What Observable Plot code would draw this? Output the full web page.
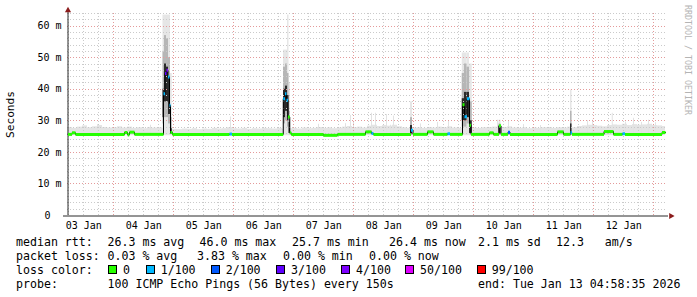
<!DOCTYPE html>
<html><head><meta charset="utf-8">
<script src="https://cdn.jsdelivr.net/npm/d3@7"></script>
<script src="https://cdn.jsdelivr.net/npm/@observablehq/plot@0.6"></script>
<style>
html,body{margin:0;padding:0;background:#fff;}
#wrap{position:relative;width:697px;height:297px;overflow:hidden;background:#fff;font-family:"DejaVu Sans Mono",monospace;color:#000;}
#chart{position:absolute;left:0;top:0;}
.lg{position:absolute;font-size:11.6px;line-height:14px;white-space:pre;}
.box{position:absolute;width:9px;height:9px;box-sizing:border-box;border:1px solid #000;}
#wm{position:absolute;left:683px;top:5px;writing-mode:vertical-rl;font-size:8.3px;color:#b4b4b4;white-space:pre;line-height:9px;}
</style></head>
<body><div id="wrap"><div id="chart"></div><div id="legend"></div><div id="wm">RRDTOOL / TOBI OETIKER</div></div>
<script>
// ---- time frame (hours from start of graph) ----
const startMs = Date.UTC(2026, 0, 3, 5, 30);
const spanHours = 240;
const dataEndHour = 239.2;
const T = h => new Date(startMs + h * 3600e3);

// ---- axes ----
const yTicks = [0, 10, 20, 30, 40, 50, 60];
const yTickLabels = ["0", "10 m", "20 m", "30 m", "40 m", "50 m", "60 m"];
const yMinor = [2,4,6,8,12,14,16,18,22,24,26,28,32,34,36,38,42,44,46,48,52,54,56,58,62,64];
const xTickDays = [3, 4, 5, 6, 7, 8, 9, 10, 11, 12];
const xTickLabels = ["03 Jan","04 Jan","05 Jan","06 Jan","07 Jan","08 Jan","09 Jan","10 Jan","11 Jan","12 Jan"];

// ---- loss colours ----
const lossColors = ["#26ff00", "#00b8ff", "#0059ff", "#5e00ff", "#7e00ff", "#dd00ff", "#ff0000"];
const lossLabels = ["0", "1/100", "2/100", "3/100", "4/100", "50/100", "99/100"];

// ---- median rtt (ms) segments ----
const medStart = [0.2,1.8,3.2,22.8,24,24.8,26.8,38.4,39,39.6,40.2,40.8,41.2,42,64.8,65.8,86.3,87,87.6,88.2,88.9,89.5,102.4,108,119.2,121.6,122.4,137.4,138.2,144,146.4,152,153,158,158.8,159.8,160.8,161.4,168.8,170.4,172.6,173.4,176.2,177,196,198.4,201.2,201.8,214.6,218.4,222,223,237.8];
const medEnd   = [1.8,3.2,22.8,24,24.8,26.8,38.4,39,39.6,40.2,40.8,41.2,42,64.8,65.8,86.3,87,87.6,88.2,88.9,89.5,102.4,108,119.2,121.6,122.4,137.4,138.2,144,146.4,152,153,158,158.8,159.8,160.8,161.4,168.8,170.4,172.6,173.4,176.2,177,196,198.4,201.2,201.8,214.6,218.4,222,223,237.8,239.2];
const medValue = [25.7,26.2,25.7,26.3,25.6,26.4,25.7,38.6,45.0,46.0,43.9,34.9,26.3,25.7,25.8,25.7,37.0,38.6,36.5,31.2,26.2,25.7,25.4,25.7,26.5,26.0,25.7,27.0,25.7,26.5,25.7,25.9,25.7,35.1,31.3,37.0,28.6,25.7,26.2,25.7,28.4,25.7,26.4,25.7,26.5,25.7,26.2,25.7,26.6,25.7,25.9,25.7,26.3];
const medLoss  = [0,0,0,0,0,0,0,1,3,4,1,1,0,0,1,0,1,1,1,0,0,0,0,0,0,1,0,1,0,0,0,1,0,0,1,1,0,0,0,0,0,0,2,0,0,0,1,0,0,0,1,0,0];

// ---- smoke: 2-hour bins, top of the light smoke (ms) ----
const smokeFloor = 25.3;
const smokeTop = [
  27.9,27.6,28.0,28.4,27.8,28.1,28.5,27.9,27.7,27.8,
  28.1,27.7,28.0,27.6,27.8,27.5,27.9,27.7,27.8,27.6,
  27.5,27.3,27.2,27.4,27.3,27.5,27.2,27.4,27.3,27.6,
  27.4,27.5,27.8,27.5,27.4,27.6,27.3,27.5,27.4,27.6,
  27.5,27.4,27.6,27.3,27.5,27.6,27.4,27.7,27.5,27.6,
  27.9,27.6,27.8,27.5,27.7,28.0,28.2,27.8,28.0,27.7,
  28.3,28.6,28.2,28.5,28.3,28.6,28.1,27.8,27.6,27.7,
  27.8,27.6,27.9,27.7,28.0,27.8,28.1,27.7,27.6,27.9,
  27.5,27.7,27.6,27.8,27.9,28.0,28.2,27.9,28.1,27.7,
  27.6,27.8,27.5,27.7,27.6,27.8,27.9,27.6,27.8,27.7,
  28.0,27.8,28.2,28.4,28.6,28.5,28.3,28.1,28.5,28.7,
  28.6,28.9,28.5,28.8,28.6,28.7,28.9,28.5,28.4,28.2
];
// thin tall smoke bars
const thinBarHour = [12,33.2,65.2,100.4,111.2,113.2,114.4,121.6,123.2,127.6,129.2,130.4,141.2,148,152.4,172,176.4,182.4,189.2,208,210,217.9,223.2,226.4,229.6,232.4,235.2];
const thinBarTop  = [28.8,28.6,31.2,28.9,29.1,31.7,29.5,32.4,32.4,32.0,28.6,31.5,29.0,29.5,30.0,30.2,30.0,28.8,28.5,30.0,30.2,32.4,29.6,30.8,29.5,30.2,29.4];
// dense smoke around the spikes
const spikeStart = [38.2,38.8,39.6,40.4,41.2,86.4,87.2,88.0,88.6,137.2,157.9,158.8,159.8,160.8,201.2,172.6];
const spikeEnd   = [38.8,39.6,40.4,41.2,41.9,87.2,88.0,88.6,89.2,138.0,158.8,159.8,160.8,161.9,201.8,173.4];
const outerHi = [63.5,63.5,63.5,63.5,45,52.4,52.4,63.5,42,36,51.5,51.5,51.5,48,39.7,30.2];
const midLo   = [29,31,31,29,26,29,30,28,26,26,28,28,29,26,26,26];
const midHi   = [52,57,56,50,31,47,48,45,33,31,45,48,47,36,33,29];
const coreLo  = [31,36,36,32,25.8,31,33,30,26,26,30,30,31,26,26,26];
const coreHi  = [40,48,47,44,27.5,40,41,38,29.5,28.5,37,39,39,30,29,28.4];

// ---- legend text ----
const statLines = [
  [["median rtt:",16],["26.3 ms avg",107.5],["46.0 ms max",199.5],["25.7 ms min",292],["26.4 ms now",389],["2.1 ms sd",478],["12.3   am/s",556]],
  [["packet loss:",16],["0.03 % avg",107.5],["3.83 % max",197],["0.00 % min",283],["0.00 % now",369]],
  [["loss color:",16]],
  [["probe:",16],["100 ICMP Echo Pings (56 Bytes) every 150s",107.5],["end: Tue Jan 13 04:58:35 2026",478]]
];
const lossBoxX = [108,145.7,210.7,276,341,405,476.7];

// ---- tables ----
const bins = smokeTop.map((v, i) => ({t0: T(i * 2), t1: T(Math.min(i * 2 + 2, dataEndHour)), top: v}));
const thin = thinBarHour.map((h, i) => ({t0: T(h), t1: T(h + 0.4), top: thinBarTop[i]}));
const spikes = spikeStart.map((s, i) => ({t0: T(s), t1: T(spikeEnd[i]), oh: outerHi[i], ml: midLo[i], mh: midHi[i], cl: coreLo[i], ch: coreHi[i]}));
const segs = medStart.map((s, i) => ({t0: T(s), t1: T(medEnd[i]), v: medValue[i], c: lossColors[medLoss[i]]}));
const pts = segs.flatMap(d => [{t: d.t0, v: d.v}, {t: d.t1, v: d.v}]);
const xTickDates = xTickDays.map(d => new Date(Date.UTC(2026, 0, d, 12)));
const xAll = d3.utcHour.every(6).range(T(0), T(spanHours));
const xMajor = xAll.filter(d => d.getUTCHours() === 0);
const xMinor = xAll.filter(d => d.getUTCHours() !== 0);
const yMajor = yTicks.slice(1);

const gridMinor = {stroke: "#cacaca", strokeDasharray: "1,2", shapeRendering: "crispEdges"};
const gridMajor = {stroke: "#e49a9a", strokeDasharray: "1,2", shapeRendering: "crispEdges"};
const axisCol = "#2b2b2b";
const arrowCol = "#8b1c1c";

const chart = Plot.plot({
  width: 697, height: 232,
  marginLeft: 67, marginRight: 30, marginTop: 13, marginBottom: 17,
  x: {type: "utc", domain: [T(0), T(spanHours)]},
  y: {domain: [0, 64]},
  style: {fontFamily: "DejaVu Sans Mono", fontSize: "10px", color: "#000", background: "#fff"},
  marks: [
    Plot.rect(bins, {x1: "t0", x2: "t1", y1: smokeFloor, y2: "top", fill: "#e4e4e4"}),
    Plot.rect(thin, {x1: "t0", x2: "t1", y1: smokeFloor, y2: "top", fill: "#e2e2e2"}),
    Plot.rect(spikes, {x1: "t0", x2: "t1", y1: smokeFloor, y2: "oh", fill: "#e6e6e6"}),
    Plot.rect(spikes, {x1: "t0", x2: "t1", y1: "ml", y2: "mh", fill: "#b6b6b6"}),
    Plot.rect(spikes, {x1: "t0", x2: "t1", y1: "cl", y2: "ch", fill: "#2a2a2a"}),
    Plot.ruleX(xMinor, gridMinor),
    Plot.ruleY(yMinor, gridMinor),
    Plot.ruleX(xMajor, gridMajor),
    Plot.ruleY(yMajor, gridMajor),
    // axis lines and arrows
    Plot.ruleX([0], {x: () => T(0), y1: 0, y2: 64.6, stroke: axisCol, dx: 0.5}),
    Plot.ruleY([0], {y: 0, x1: () => T(-1.6), x2: () => T(spanHours + 0.4), stroke: axisCol, dy: 0.5}),
    Plot.dot([0], {x: () => T(0), y: 65.0, symbol: "triangle", r: 2.3, fill: arrowCol, stroke: "none", dx: 0.5}),
    Plot.dot([0], {x: () => T(spanHours + 1.4), y: 0, symbol: "triangle", r: 2.3, rotate: 90, fill: arrowCol, stroke: "none", dy: 0.5}),
    // median
    Plot.line(pts, {x: "t", y: "v", stroke: "#000", strokeWidth: 1}),
    Plot.link(segs, {x1: "t0", x2: "t1", y1: "v", y2: "v", stroke: "c", strokeWidth: 3}),
    // axes
    Plot.axisX(xTickDates, {tickSize: 0, tickPadding: 6, label: null,
      tickFormat: d => xTickLabels[xTickDays.indexOf(d.getUTCDate())]}),
    Plot.axisY(yTicks.slice(1), {tickSize: 0, tickPadding: 6, label: null,
      tickFormat: d => yTickLabels[yTicks.indexOf(d)]}),
    Plot.axisY([0], {tickSize: 0, tickPadding: 6, dx: -11, label: null,
      tickFormat: d => yTickLabels[yTicks.indexOf(d)]}),
    Plot.text(["Seconds"], {frameAnchor: "left", rotate: -90, dx: -57, text: d => d, fontSize: 11.2, textAnchor: "middle"})
  ]
});
document.getElementById("chart").appendChild(chart);

// ---- legend (HTML text below the svg) ----
const legend = document.getElementById("legend");
statLines.forEach((items, row) => {
  items.forEach(([txt, x]) => {
    const s = document.createElement("span");
    s.className = "lg";
    s.textContent = txt;
    s.style.left = x + "px";
    s.style.top = (234.5 + row * 14) + "px";
    legend.appendChild(s);
  });
});
lossColors.forEach((c, i) => {
  const b = document.createElement("div");
  b.className = "box";
  b.style.left = lossBoxX[i] + "px";
  b.style.top = "265px";
  b.style.background = c;
  legend.appendChild(b);
  const s = document.createElement("span");
  s.className = "lg";
  s.textContent = lossLabels[i];
  s.style.left = (lossBoxX[i] + 15) + "px";
  s.style.top = (234.5 + 2 * 14) + "px";
  legend.appendChild(s);
});
</script>
</body></html>
